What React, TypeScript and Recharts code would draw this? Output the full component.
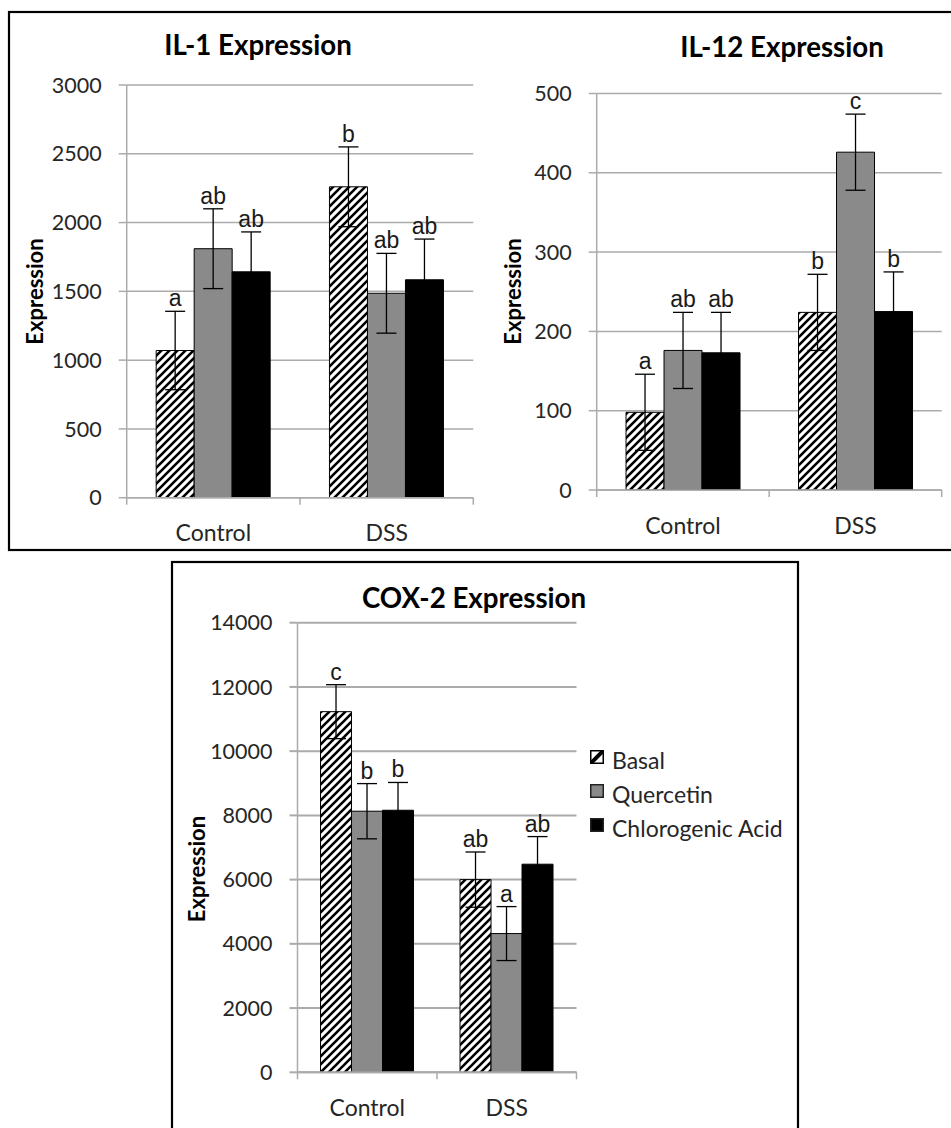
import React from 'react';
import { BarChart, Bar, XAxis, YAxis, CartesianGrid, ErrorBar, LabelList, Legend } from 'recharts';

// Treatment groups on the x axis and the three series drawn in each group
const groups = ['Control', 'DSS'];
const seriesNames = ['Basal', 'Quercetin', 'Chlorogenic Acid'];

// IL-1 expression (mean, error, significance letter)
const il1Basal = [1070, 2260];
const il1BasalErr = [285, 290];
const il1BasalSig = ['a', 'b'];
const il1Quercetin = [1810, 1486];
const il1QuercetinErr = [290, 290];
const il1QuercetinSig = ['ab', 'ab'];
const il1Chlorogenic = [1642, 1584];
const il1ChlorogenicErr = [290, 296];
const il1ChlorogenicSig = ['ab', 'ab'];
const il1Ticks = [0, 500, 1000, 1500, 2000, 2500, 3000];

// IL-12 expression
const il12Basal = [98, 224];
const il12BasalErr = [48, 48];
const il12BasalSig = ['a', 'b'];
const il12Quercetin = [176, 426];
const il12QuercetinErr = [48, 48];
const il12QuercetinSig = ['ab', 'c'];
const il12Chlorogenic = [173, 225];
const il12ChlorogenicErr = [51, 50];
const il12ChlorogenicSig = ['ab', 'b'];
const il12Ticks = [0, 100, 200, 300, 400, 500];

// COX-2 expression
const cox2Basal = [11230, 6000];
const cox2BasalErr = [840, 860];
const cox2BasalSig = ['c', 'ab'];
const cox2Quercetin = [8130, 4320];
const cox2QuercetinErr = [860, 840];
const cox2QuercetinSig = ['b', 'a'];
const cox2Chlorogenic = [8160, 6480];
const cox2ChlorogenicErr = [865, 860];
const cox2ChlorogenicSig = ['b', 'ab'];
const cox2Ticks = [0, 2000, 4000, 6000, 8000, 10000, 12000, 14000];

const GRID = '#ababab';
const GRAY = '#8a8a8a';
const TEXT = '#262626';
const SANS = 'Lato, "Open Sans", sans-serif';
const LETTER_FONT = '"Liberation Sans", Arial, sans-serif';

type Series = {
  key: string;
  name: string;
  fill: string;
  values: number[];
  errs: number[];
  sigs: string[];
};

function makeSeries(
  b: number[], bE: number[], bS: string[],
  q: number[], qE: number[], qS: string[],
  c: number[], cE: number[], cS: string[],
): Series[] {
  return [
    { key: 'basal', name: seriesNames[0], fill: 'hatch', values: b, errs: bE, sigs: bS },
    { key: 'quercetin', name: seriesNames[1], fill: GRAY, values: q, errs: qE, sigs: qS },
    { key: 'chlorogenic', name: seriesNames[2], fill: '#000', values: c, errs: cE, sigs: cS },
  ];
}

const il1Series = makeSeries(
  il1Basal, il1BasalErr, il1BasalSig,
  il1Quercetin, il1QuercetinErr, il1QuercetinSig,
  il1Chlorogenic, il1ChlorogenicErr, il1ChlorogenicSig,
);
const il12Series = makeSeries(
  il12Basal, il12BasalErr, il12BasalSig,
  il12Quercetin, il12QuercetinErr, il12QuercetinSig,
  il12Chlorogenic, il12ChlorogenicErr, il12ChlorogenicSig,
);
const cox2Series = makeSeries(
  cox2Basal, cox2BasalErr, cox2BasalSig,
  cox2Quercetin, cox2QuercetinErr, cox2QuercetinSig,
  cox2Chlorogenic, cox2ChlorogenicErr, cox2ChlorogenicSig,
);

function HatchDefs({ id }: { id: string }) {
  return (
    <defs>
      <pattern id={id} patternUnits="userSpaceOnUse" width={8} height={8}>
        <rect width={8} height={8} fill="#fff" />
        <path d="M-2,2 L2,-2 M0,8 L8,0 M6,10 L10,6" stroke="#000" strokeWidth={2.6} />
      </pattern>
    </defs>
  );
}

// Category label centred under each group, with small tick marks at the group boundaries
function CategoryTick(props: any) {
  const { x, y, payload, width } = props;
  const half = payload && typeof payload.offset === 'number' && payload.offset > 0
    ? payload.offset
    : Number(width) / groups.length / 2;
  const last = payload.index === groups.length - 1;
  return (
    <g>
      <line x1={x - half} x2={x - half} y1={y} y2={y + 7} stroke={GRID} strokeWidth={1.5} />
      {last && <line x1={x + half} x2={x + half} y1={y} y2={y + 7} stroke={GRID} strokeWidth={1.5} />}
      <text x={x} y={y + 43.5} textAnchor="middle" fill={TEXT} fontSize={23} fontFamily={SANS}>
        {payload.value}
      </text>
    </g>
  );
}

// Significance letter placed just above the top of the error bar
function sigLabel(s: Series) {
  return (p: any) => {
    const vb = p.viewBox || {};
    const x = Number(p.x ?? vb.x);
    const y = Number(p.y ?? vb.y);
    const w = Number(p.width ?? vb.width);
    const h = Math.abs(Number(p.height ?? vb.height));
    const i = Number(p.index ?? 0);
    const v = s.values[i];
    const pxPerUnit = v ? h / v : 0;
    const top = y - s.errs[i] * pxPerUnit;
    return (
      <text
        key={`${s.key}-sig-${i}`}
        x={x + w / 2}
        y={top - 5}
        textAnchor="middle"
        fill="#1a1a1a"
        fontSize={23}
        fontFamily={LETTER_FONT}
      >
        {p.value}
      </text>
    );
  };
}

function LegendBox() {
  const icon = (i: number) => {
    if (i === 0) {
      return (
        <svg width={14} height={14} style={{ display: 'block' }}>
          <defs>
            <pattern id="hatch-legend" patternUnits="userSpaceOnUse" width={14} height={14}>
              <rect width={14} height={14} fill="#fff" />
              <path d="M0,14 L14,0" stroke="#000" strokeWidth={4} />
            </pattern>
          </defs>
          <rect x={0.75} y={0.75} width={12.5} height={12.5} fill="url(#hatch-legend)" stroke="#000" strokeWidth={1.5} />
        </svg>
      );
    }
    return (
      <svg width={14} height={14} style={{ display: 'block' }}>
        <rect x={0.75} y={0.75} width={12.5} height={12.5} fill={i === 1 ? GRAY : '#000'} stroke="#222" strokeWidth={1.5} />
      </svg>
    );
  };
  return (
    <div style={{ fontFamily: SANS, fontSize: 23, color: TEXT }}>
      {seriesNames.map((name, i) => (
        <div key={name} style={{ display: 'flex', alignItems: 'center', height: 34, whiteSpace: 'nowrap' }}>
          <div style={{ width: 22, transform: 'translateY(-3px)' }}>{icon(i)}</div>
          <span style={{ lineHeight: '34px' }}>{name}</span>
        </div>
      ))}
    </div>
  );
}

type PanelProps = {
  left: number;
  top: number;
  width: number;
  height: number;
  margin: { top: number; right: number; bottom: number; left: number };
  yAxisWidth: number;
  xAxisHeight: number;
  ticks: number[];
  series: Series[];
  gap: string;
  patternId: string;
  gridWidth: number;
  legend?: { left: number; top: number };
};

function Panel(props: PanelProps) {
  const { series, ticks, patternId } = props;
  const rows = groups.map((group, i) => {
    const r: Record<string, string | number> = { group };
    series.forEach((s) => {
      r[s.key] = s.values[i];
      r[`${s.key}Err`] = s.errs[i];
      r[`${s.key}Sig`] = s.sigs[i];
    });
    return r;
  });
  return (
    <div style={{ position: 'absolute', left: props.left, top: props.top }}>
      <BarChart
        width={props.width}
        height={props.height}
        data={rows}
        margin={props.margin}
        barCategoryGap={props.gap}
        barGap={0}
      >
        <HatchDefs id={patternId} />
        <CartesianGrid vertical={false} stroke={GRID} strokeWidth={props.gridWidth} />
        <XAxis
          dataKey="group"
          height={props.xAxisHeight}
          axisLine={{ stroke: GRID, strokeWidth: props.gridWidth }}
          tickLine={false}
          tickSize={0}
          tickMargin={0}
          interval={0}
          tick={(p: any) => <CategoryTick {...p} />}
        />
        <YAxis
          width={props.yAxisWidth}
          domain={[0, ticks[ticks.length - 1]]}
          ticks={ticks}
          interval={0}
          allowDataOverflow
          axisLine={{ stroke: GRID, strokeWidth: 1.5 }}
          tickLine={{ stroke: GRID, strokeWidth: props.gridWidth }}
          tickSize={8}
          tickMargin={17}
          tick={{ fill: TEXT, fontSize: 21.5, fontFamily: SANS }}
        />
        {series.map((s) => (
          <Bar
            key={s.key}
            dataKey={s.key}
            name={s.name}
            fill={s.fill === 'hatch' ? `url(#${patternId})` : s.fill}
            stroke="#000"
            strokeWidth={1}
            isAnimationActive={false}
          >
            <ErrorBar dataKey={`${s.key}Err`} width={10} stroke="#000" strokeWidth={1.3} direction="y" />
            <LabelList dataKey={`${s.key}Sig`} content={sigLabel(s)} />
          </Bar>
        ))}
        {props.legend && (
          <Legend
            layout="vertical"
            align="center"
            verticalAlign="middle"
            wrapperStyle={{ left: props.legend.left, top: props.legend.top, width: 'auto', height: 'auto' }}
            content={() => <LegendBox />}
          />
        )}
      </BarChart>
    </div>
  );
}

function Titles() {
  const title = { fontFamily: SANS, fontWeight: 700, fontSize: 27.7, fill: '#000' } as const;
  const axisTitle = { fontFamily: SANS, fontWeight: 700, fontSize: 22, fill: '#000' } as const;
  return (
    <svg width={951} height={1128} style={{ position: 'absolute', left: 0, top: 0, pointerEvents: 'none' }}>
      <rect x={9} y={12} width={960} height={538} fill="none" stroke="#000" strokeWidth={2.2} />
      <rect x={172} y={562} width={626} height={600} fill="none" stroke="#000" strokeWidth={2.2} />
      <text x={258} y={55} textAnchor="middle" {...title}>IL-1 Expression</text>
      <text x={782} y={57} textAnchor="middle" {...title}>IL-12 Expression</text>
      <text x={474} y={608} textAnchor="middle" {...title}>COX-2 Expression</text>
      <text transform="translate(42.5,291.5) rotate(-90)" textAnchor="middle" {...axisTitle}>Expression</text>
      <text transform="translate(520.5,291.5) rotate(-90)" textAnchor="middle" {...axisTitle}>Expression</text>
      <text transform="translate(205,869) rotate(-90)" textAnchor="middle" {...axisTitle}>Expression</text>
    </svg>
  );
}

export default function App() {
  return (
    <div
      style={{
        position: 'absolute',
        left: 0,
        top: 0,
        width: 951,
        height: 1128,
        overflow: 'hidden',
        background: '#fff',
      }}
    >
      <Panel
        left={0}
        top={0}
        width={480}
        height={550}
        margin={{ top: 85, right: 6.7, bottom: 0, left: 0 }}
        yAxisWidth={126.7}
        xAxisHeight={52.3}
        ticks={il1Ticks}
        series={il1Series}
        gap="17%"
        patternId="hatch-il1"
        gridWidth={1.5}
      />
      <Panel
        left={480}
        top={0}
        width={471}
        height={550}
        margin={{ top: 93.5, right: 9.3, bottom: 0, left: 0 }}
        yAxisWidth={116.7}
        xAxisHeight={60}
        ticks={il12Ticks}
        series={il12Series}
        gap="17%"
        patternId="hatch-il12"
        gridWidth={1.5}
      />
      <Panel
        left={174}
        top={563}
        width={620}
        height={565}
        margin={{ top: 59.7, right: 217.5, bottom: 0, left: 0 }}
        yAxisWidth={123.5}
        xAxisHeight={55.7}
        ticks={cox2Ticks}
        series={cox2Series}
        gap="16.5%"
        patternId="hatch-cox2"
        gridWidth={2}
        legend={{ left: 416, top: 180 }}
      />
      <Titles />
    </div>
  );
}
